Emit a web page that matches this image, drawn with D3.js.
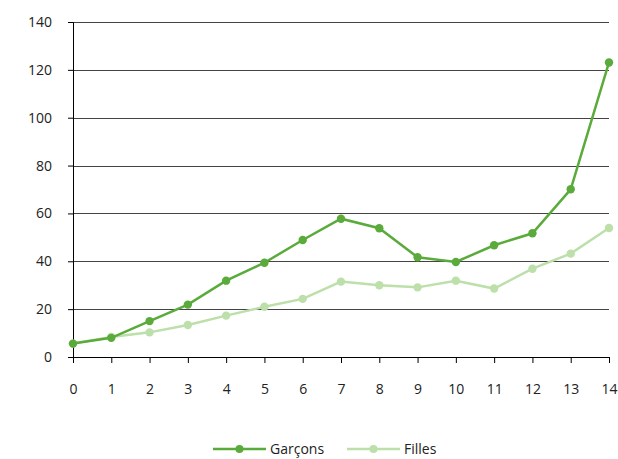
<!DOCTYPE html>
<html>
<head>
<meta charset="utf-8">
<script src="https://cdn.jsdelivr.net/npm/d3@7"></script>
<style>
  body { margin: 0; background: #fff; }
  text { font-family: "Open Sans", "Noto Sans", sans-serif; fill: #222; }
</style>
</head>
<body>
<div id="chart-area"></div>
<script>
// ages 0..14
const ages = [0, 1, 2, 3, 4, 5, 6, 7, 8, 9, 10, 11, 12, 13, 14];
const garcons = [5.6, 8, 15, 21.9, 31.9, 39.4, 48.9, 57.8, 53.8, 41.7, 39.7, 46.7, 51.7, 70.1, 123.1];
const filles = [5.6, 8.4, 10.3, 13.4, 17.3, 21, 24.3, 31.5, 30, 29.1, 31.9, 28.6, 36.9, 43.2, 53.9];
const yTicks = [0, 20, 40, 60, 80, 100, 120, 140];
const seriesNames = ['Garçons', 'Filles'];

const colors = { 'Garçons': '#5aab3b', 'Filles': '#bddfa9' };

const margin = { left: 73, right: 9, top: 22, bottom: 102 };
const width = 618 - margin.left - margin.right;
const height = 459 - margin.top - margin.bottom;

const svg = d3.select('#chart-area').append('svg')
  .attr('width', 618)
  .attr('height', 459);

const g = svg.append('g')
  .attr('transform', `translate(${margin.left}, ${margin.top})`);

const x = d3.scaleLinear()
  .domain([0, 14])
  .range([0, width]);

const y = d3.scaleLinear()
  .domain([0, 140])
  .range([height, 0]);

// gridlines
g.selectAll('.grid')
  .data(yTicks.filter(d => d > 0))
  .enter().append('line')
    .attr('class', 'grid')
    .attr('x1', 0)
    .attr('x2', width)
    .attr('y1', d => Math.round(y(d)) + 0.5)
    .attr('y2', d => Math.round(y(d)) + 0.5)
    .attr('stroke', '#444')
    .attr('stroke-width', 1);

// y axis
const yAxis = g.append('g')
  .attr('class', 'y-axis')
  .call(d3.axisLeft(y).tickValues(yTicks).tickSize(5).tickPadding(16));
yAxis.select('.domain').attr('stroke', '#000');
yAxis.selectAll('.tick line').attr('stroke', '#000');
yAxis.selectAll('text').attr('font-size', '14px').attr('fill', '#222');

// x axis
const xAxis = g.append('g')
  .attr('class', 'x-axis')
  .attr('transform', `translate(0, ${height})`)
  .call(d3.axisBottom(x).tickValues(ages).tickSize(6).tickPadding(21).tickSizeOuter(0));
xAxis.select('.domain').attr('stroke', '#000');
xAxis.selectAll('.tick line').attr('stroke', '#000');
xAxis.selectAll('text').attr('font-size', '14px').attr('fill', '#222');

const series = [
  { name: 'Garçons', values: garcons },
  { name: 'Filles', values: filles }
];

const line = d3.line()
  .x((d, i) => x(ages[i]))
  .y(d => y(d));

// draw filles first so garcons sits on top
series.slice().reverse().forEach(s => {
  g.append('path')
    .datum(s.values)
    .attr('fill', 'none')
    .attr('stroke', colors[s.name])
    .attr('stroke-width', 2.5)
    .attr('d', line);

  g.selectAll(`.dot-${s.name === 'Garçons' ? 'g' : 'f'}`)
    .data(s.values)
    .enter().append('circle')
      .attr('cx', (d, i) => x(ages[i]))
      .attr('cy', d => y(d))
      .attr('r', 4.2)
      .attr('fill', colors[s.name]);
});

// legend
const legend = svg.append('g')
  .attr('transform', 'translate(0, 449)');

const legendX = [213, 347];
seriesNames.forEach((name, i) => {
  const lx = legendX[i];
  legend.append('line')
    .attr('x1', lx)
    .attr('x2', lx + 53)
    .attr('y1', 0)
    .attr('y2', 0)
    .attr('stroke', colors[name])
    .attr('stroke-width', 2.5);
  legend.append('circle')
    .attr('cx', lx + 26.5)
    .attr('cy', 0)
    .attr('r', 4)
    .attr('fill', colors[name]);
  legend.append('text')
    .attr('x', lx + 57)
    .attr('y', 5)
    .attr('font-size', '14px')
    .text(name);
});
</script>
</body>
</html>
